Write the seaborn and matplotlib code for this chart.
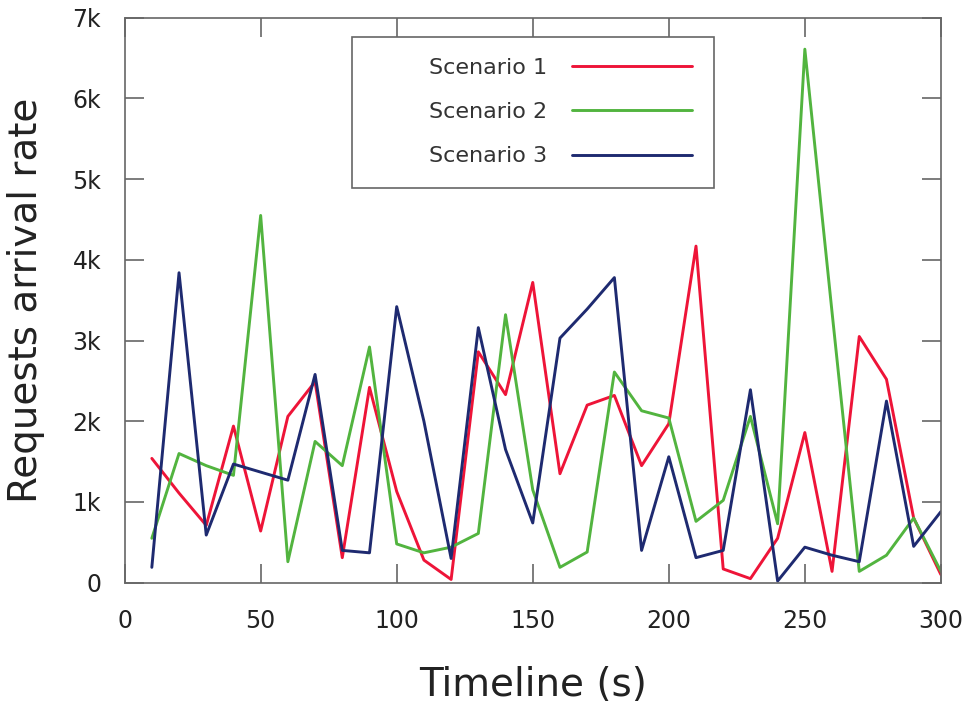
import matplotlib
matplotlib.use("Agg")
import pandas as pd
import seaborn as sns
from matplotlib import pyplot
from matplotlib.patches import Rectangle

timeline = [10, 20, 30, 40, 50, 60, 70, 80, 90, 100,
            110, 120, 130, 140, 150, 160, 170, 180, 190, 200,
            210, 220, 230, 240, 250, 260, 270, 280, 290, 300]
scenario_1 = [1540, 1110, 710, 1940, 640, 2060, 2490, 310, 2420, 1130,
              280, 40, 2860, 2330, 3720, 1350, 2200, 2320, 1450, 1970,
              4170, 170, 50, 550, 1860, 140, 3050, 2520, 800, 100]
scenario_2 = [550, 1600, 1450, 1330, 4550, 260, 1750, 1450, 2920, 480,
              370, 440, 610, 3320, 1150, 190, 380, 2610, 2130, 2040,
              760, 1020, 2060, 730, 6610, 3350, 140, 340, 800, 140]
scenario_3 = [190, 3840, 590, 1470, 1370, 1270, 2580, 400, 370, 3420,
              2000, 300, 3160, 1650, 740, 3030, 3390, 3780, 400, 1560,
              310, 400, 2390, 20, 440, 340, 260, 2250, 450, 880]
scenario_names = ['Scenario 1', 'Scenario 2', 'Scenario 3']
line_colors = ['#ee1438', '#52b43f', '#1e2a70']
x_ticks = [0, 50, 100, 150, 200, 250, 300]
y_ticks = [0, 1000, 2000, 3000, 4000, 5000, 6000, 7000]
y_tick_labels = ['0', '1k', '2k', '3k', '4k', '5k', '6k', '7k']

df = pd.DataFrame({
    'time': timeline * 3,
    'rate': scenario_1 + scenario_2 + scenario_3,
    'scenario': [scenario_names[0]] * len(timeline)
                + [scenario_names[1]] * len(timeline)
                + [scenario_names[2]] * len(timeline),
})

sns.set_theme(style="white")
pyplot.rcParams['font.family'] = ['DejaVu Sans']
frame_color = '#666666'
text_color = '#222222'

fig = pyplot.figure(figsize=(9.66, 7.08), dpi=100)
fig.subplots_adjust(left=0.129, right=0.974, bottom=0.177, top=0.975)
ax = fig.add_subplot(111)

sns.lineplot(data=df, x='time', y='rate', hue='scenario',
             hue_order=scenario_names, palette=line_colors,
             linewidth=2.1, errorbar=None, ax=ax)

ax.set_xlim(0, 300)
ax.set_ylim(0, 7000)
ax.set_xticks(x_ticks)
ax.set_yticks(y_ticks)
ax.set_yticklabels(y_tick_labels)
ax.tick_params(axis='both', direction='in', length=14, width=1.2,
               color=frame_color, labelsize=17, labelcolor=text_color,
               bottom=True, left=True, top=True, right=True)
ax.tick_params(axis='x', pad=19)
ax.tick_params(axis='y', pad=17)
for spine in ax.spines.values():
    spine.set_color(frame_color)
    spine.set_linewidth(1.2)

ax.set_xlabel('Timeline (s)', fontsize=28, color=text_color)
ax.set_ylabel('Requests arrival rate', fontsize=28, color=text_color)
ax.xaxis.set_label_coords(0.5, -0.147)
ax.yaxis.set_label_coords(-0.097, 0.5)

# gnuplot-like key: text first, sample line after, inside a plain box
ax.add_patch(Rectangle((0.278, 0.699), 0.444, 0.267, transform=ax.transAxes,
                       facecolor='white', edgecolor=frame_color,
                       linewidth=1.2, zorder=3))
handles, labels = ax.get_legend_handles_labels()
leg = ax.legend(handles, labels, loc='center right',
                bbox_to_anchor=(0.695, 0.833), frameon=False,
                markerfirst=False, fontsize=16, borderpad=0,
                borderaxespad=0, handlelength=5.4, handletextpad=1.1,
                labelspacing=1.1)
leg.set_zorder(4)
for t in leg.get_texts():
    t.set_color('#333333')

fig.savefig('out.png', dpi=100, facecolor='white')
